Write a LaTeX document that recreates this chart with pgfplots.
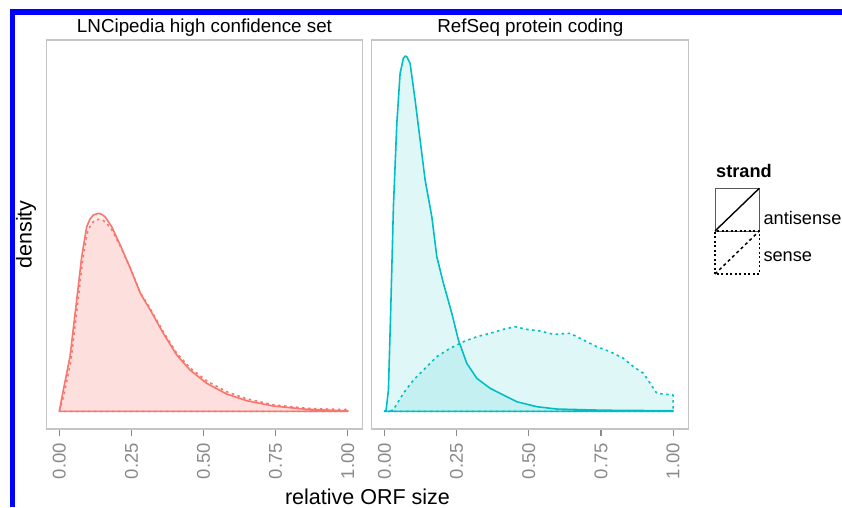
\documentclass[border=0pt]{standalone}
\usepackage{fontspec}
\setmainfont{Liberation Sans}
\usepackage{pgfplots}
\pgfplotsset{compat=1.18}

\definecolor{lnc}{HTML}{F8766D}
\definecolor{ref}{HTML}{00BFC4}
\definecolor{panelborder}{HTML}{C4C4C4}
\definecolor{ticktext}{HTML}{8A8A8A}

\pgfplotsset{
  facet/.style={
    scale only axis,
    height=389pt,
    ymin=-0.325, ymax=6.825,
    axis line style={panelborder, line width=1.2pt},
    ytick=\empty,
    xtick={0,0.25,0.5,0.75,1},
    xticklabels={0.00,0.25,0.50,0.75,1.00},
    xtick pos=left,
    tick align=outside,
    major tick length=6.5pt,
    xtick style={ticktext, line width=1.2pt},
    xticklabel shift=4pt,
    xticklabel style={rotate=90, anchor=east, text=ticktext,
      font=\fontsize{18.5}{20}\selectfont},
  },
  solidline/.style={line width=1.6pt, line join=round},
  dotline/.style={line width=1.6pt, line join=round, dash pattern=on 2.5pt off 3.5pt},
}

\begin{document}
\begin{tikzpicture}[x=1pt,y=1pt]

% left facet: LNCipedia
\begin{axis}[facet, at={(46.5pt,78pt)}, anchor=south west,
  width=316pt, xmin=-0.0444, xmax=1.0513]
\addplot[lnc, solidline, fill=lnc, fill opacity=0.12] coordinates {
 (0,0) (0.0139,0.39) (0.0371,1.004) (0.0603,2.046) (0.0777,2.842)
 (0.095,3.393) (0.106,3.53) (0.1179,3.608) (0.1352,3.640) (0.147,3.62)
 (0.1585,3.577) (0.1817,3.393) (0.2112,3.057) (0.2462,2.629) (0.2809,2.169)
 (0.3155,1.862) (0.3606,1.434) (0.4071,1.035) (0.4532,0.759) (0.5111,0.515)
 (0.5804,0.318) (0.6498,0.195) (0.742,0.097) (0.8578,0.037) (1.0,0.006)
} \closedcycle;
\addplot[lnc, dotline, fill=lnc, fill opacity=0.12] coordinates {
 (0,0) (0.016,0.30) (0.040,0.92) (0.063,1.95) (0.080,2.74)
 (0.097,3.28) (0.108,3.42) (0.120,3.50) (0.137,3.53) (0.148,3.52)
 (0.160,3.48) (0.183,3.33) (0.212,3.03) (0.247,2.62) (0.281,2.18)
 (0.316,1.88) (0.361,1.46) (0.407,1.07) (0.453,0.80) (0.511,0.56)
 (0.580,0.36) (0.650,0.23) (0.742,0.12) (0.858,0.055) (0.99,0.03) (1.0,0.05)
} \closedcycle;
\end{axis}

% right facet: RefSeq
\begin{axis}[facet, at={(371.7pt,78pt)}, anchor=south west,
  width=317pt, xmin=-0.044, xmax=1.054]
\addplot[ref, solidline, fill=ref, fill opacity=0.12] coordinates {
 (0,0) (0.0059,0.024) (0.0139,0.392) (0.0222,1.923) (0.0312,3.761)
 (0.043,5.294) (0.0544,6.213) (0.0658,6.489) (0.072,6.53) (0.0776,6.518)
 (0.089,6.397) (0.1063,5.722) (0.1237,4.987) (0.141,4.252) (0.1642,3.577)
 (0.1815,2.842) (0.2044,2.353) (0.2335,1.801) (0.2563,1.311) (0.2854,0.882)
 (0.32,0.607) (0.3661,0.423) (0.4122,0.30) (0.4586,0.176) (0.5279,0.085)
 (0.5972,0.042) (0.7586,0.02) (1.0,0.01)
} \closedcycle;
\addplot[ref, dotline, fill=ref, fill opacity=0.12] coordinates {
 (0,0) (0.030,0.02) (0.0658,0.331) (0.1005,0.575) (0.1351,0.759)
 (0.1815,1.004) (0.2276,1.158) (0.2736,1.279) (0.32,1.371) (0.3661,1.434)
 (0.4122,1.507) (0.4527,1.555) (0.4932,1.507) (0.5393,1.476) (0.5854,1.415)
 (0.6432,1.434) (0.6893,1.311) (0.7357,1.187) (0.7818,1.096) (0.8278,0.974)
 (0.8625,0.820) (0.8971,0.699) (0.9203,0.515) (0.9435,0.331) (0.9664,0.318)
 (1.0,0.30)
} \closedcycle;
\end{axis}

% facet titles and axis titles
\node[anchor=base, font=\fontsize{18.8}{22}\selectfont] at (204.5pt,474.3pt) {LNCipedia high confidence set};
\node[anchor=base, font=\fontsize{18.8}{22}\selectfont] at (530.3pt,474.3pt) {RefSeq protein coding};
\node[anchor=base, font=\fontsize{21.5}{24}\selectfont] at (367.5pt,3pt) {relative ORF size};
\node[rotate=90, font=\fontsize{21.5}{24}\selectfont] at (26pt,272.5pt) {density};

% legend
\node[anchor=base west, font=\fontsize{18.2}{20}\selectfont\bfseries, inner sep=0pt] at (716pt,329.7pt) {strand};
\draw[gray!70!black, line width=0.9pt] (715pt,276pt) rectangle (759.3pt,318.7pt);
\draw[black, line width=1.4pt] (715pt,276pt) -- (759.3pt,318.7pt);
\draw[black, line width=1.1pt, dash pattern=on 2pt off 2.5pt] (715pt,233pt) rectangle (759.3pt,276pt);
\draw[black, line width=1.5pt, dash pattern=on 3pt off 3pt] (715pt,233pt) -- (759.3pt,276pt);
\node[anchor=base west, font=\fontsize{18.2}{20}\selectfont, inner sep=0pt] at (763.3pt,283pt) {antisense};
\node[anchor=base west, font=\fontsize{18.2}{20}\selectfont, inner sep=0pt] at (763.3pt,245.3pt) {sense};

% blue frame of the original figure
\fill[blue] (10pt,0pt) rectangle (15pt,498pt);
\fill[blue] (10pt,492pt) rectangle (842pt,498pt);

\pgfresetboundingbox
\useasboundingbox (0pt,0pt) rectangle (842pt,507pt);
\end{tikzpicture}
\end{document}
